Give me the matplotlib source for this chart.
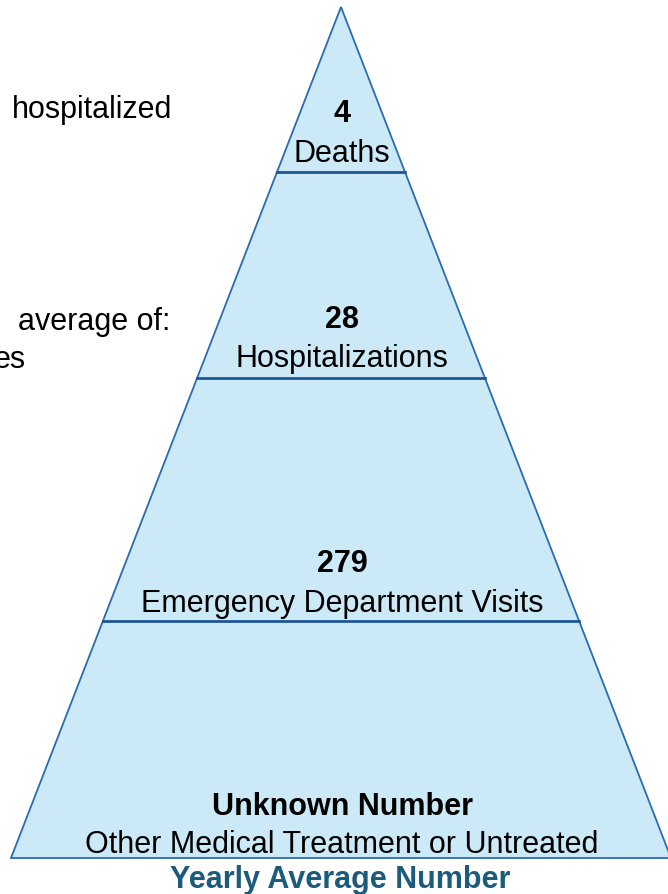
import matplotlib.pyplot as plt
from matplotlib.patches import Polygon

plt.rcParams['font.family'] = ['Liberation Sans', 'DejaVu Sans']

# pyramid levels, top to bottom
counts = ['4', '28', '279', 'Unknown Number']
labels = ['Deaths', 'Hospitalizations', 'Emergency Department Visits',
          'Other Medical Treatment or Untreated']
title = 'Yearly Average Number'
side_text = ['hospitalized', 'average of:', 'es']

apex = (341, 8)
base_y = 859
base_left, base_right = 11, 671
cut_y = [173, 379, 622]          # divider lines
count_y = [114, 320, 564, 807]
label_y = [154, 359, 604, 845]
fs = 22

fig = plt.figure(figsize=(6.68, 8.95), dpi=100)
ax = fig.add_axes([0, 0, 1, 1])
ax.set_xlim(0, 668)
ax.set_ylim(895, 0)
ax.axis('off')

tri = Polygon([apex, (base_left, base_y), (base_right, base_y)], closed=True,
              facecolor='#cbe9f6', edgecolor='#2b6cb0', lw=1.3)
ax.add_patch(tri)


def edge_x(y):
    t = (y - apex[1]) / (base_y - apex[1])
    return apex[0] + t * (base_left - apex[0]), apex[0] + t * (base_right - apex[0])


for y in cut_y:
    x0, x1 = edge_x(y)
    ax.plot([x0, x1], [y, y], color='#1f5596', lw=2)

cx = 342
for c, l, yc, yl in zip(counts, labels, count_y, label_y):
    ax.text(cx, yc, c, ha='center', va='center', fontsize=fs, fontweight='bold')
    ax.text(cx, yl, l, ha='center', va='center', fontsize=fs)

ax.text(340, 880, title, ha='center', va='center', fontsize=fs,
        fontweight='bold', color='#1b5c7c')

ax.text(172, 110, side_text[0], ha='right', va='center', fontsize=fs)
ax.text(170, 322, side_text[1], ha='right', va='center', fontsize=fs)
ax.text(26, 360, side_text[2], ha='right', va='center', fontsize=fs)

fig.savefig('out.png', dpi=100)
